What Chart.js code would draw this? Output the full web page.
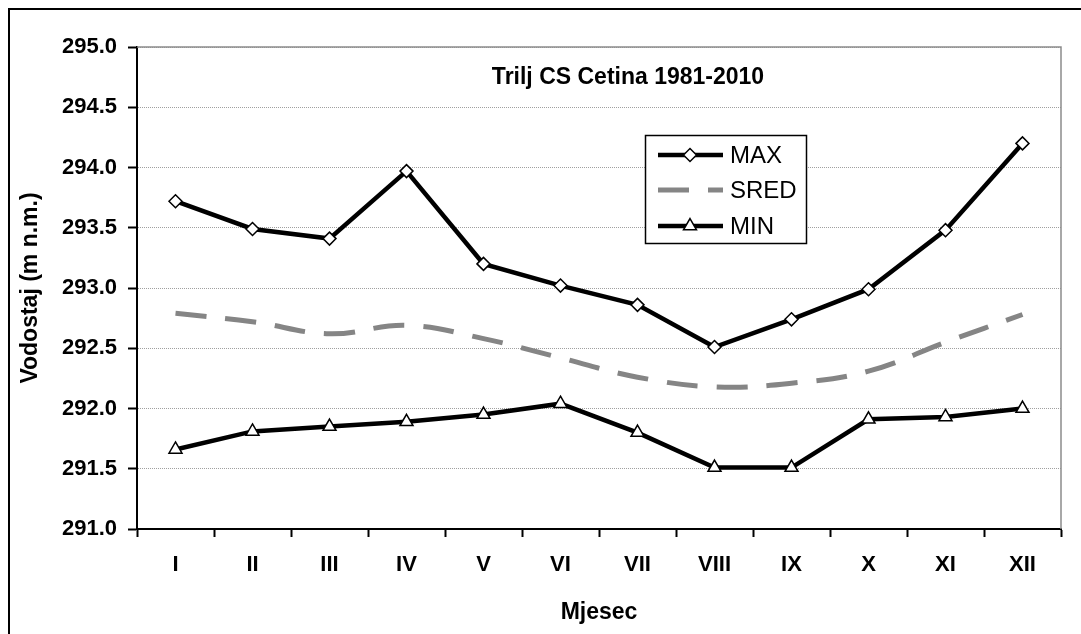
<!DOCTYPE html>
<html>
<head>
<meta charset="utf-8">
<title>Trilj CS Cetina 1981-2010</title>
<script src="https://cdn.jsdelivr.net/npm/chart.js@4/dist/chart.umd.min.js"></script>
<style>
  html, body { margin: 0; padding: 0; background: #fff; }
  #wrap { width: 1081px; height: 634px; position: relative; }
</style>
</head>
<body>
<div id="wrap"><canvas id="c" width="1081" height="634"></canvas></div>
<script>
// Monthly water levels (m a.s.l.), station Trilj CS, river Cetina, 1981-2010
const months = ['I', 'II', 'III', 'IV', 'V', 'VI', 'VII', 'VIII', 'IX', 'X', 'XI', 'XII'];
const maxLevels = [293.72, 293.49, 293.41, 293.97, 293.20, 293.02, 292.86, 292.51, 292.74, 292.99, 293.48, 294.20];
const meanLevels = [292.79, 292.72, 292.62, 292.69, 292.58, 292.42, 292.26, 292.18, 292.21, 292.31, 292.55, 292.78];
const minLevels = [291.66, 291.81, 291.85, 291.89, 291.95, 292.04, 291.80, 291.51, 291.51, 291.91, 291.93, 292.00];
const seriesNames = ['MAX', 'SRED', 'MIN'];
const yMin = 291.0, yMax = 295.0, yStep = 0.5;

const FONT = "'Liberation Sans', Arial, Helvetica, sans-serif";

// White page, outer frame and the grey plot-area outline (top and right)
const framePlugin = {
  id: 'frame',
  beforeDraw(chart) {
    const { ctx } = chart;
    ctx.save();
    ctx.fillStyle = '#fff';
    ctx.fillRect(0, 0, chart.width, chart.height);
    ctx.strokeStyle = '#000';
    ctx.lineWidth = 2;
    ctx.strokeRect(9, 9, chart.width + 40, chart.height + 40);
    ctx.restore();
  },
  beforeDatasetsDraw(chart) {
    const { ctx, chartArea: a } = chart;
    ctx.save();
    ctx.strokeStyle = '#8c8c8c';
    ctx.lineWidth = 1.5;
    ctx.beginPath();
    ctx.moveTo(a.left, a.top);
    ctx.lineTo(a.right, a.top);
    ctx.lineTo(a.right, a.bottom);
    ctx.stroke();
    ctx.restore();
  }
};

// Chart heading drawn inside the plot area
const headingPlugin = {
  id: 'heading',
  afterDraw(chart) {
    const { ctx } = chart;
    ctx.save();
    ctx.font = 'bold 23px ' + FONT;
    ctx.fillStyle = '#000';
    ctx.textAlign = 'center';
    ctx.textBaseline = 'middle';
    ctx.fillText('Trilj CS Cetina 1981-2010', 628, 78);
    ctx.restore();
  }
};

// Boxed legend inside the plot area, using each dataset's own style
const boxLegendPlugin = {
  id: 'boxLegend',
  afterDraw(chart) {
    const { ctx } = chart;
    const box = { x: 645.5, y: 135.5, w: 161, h: 108 };
    const rows = [155, 190, 226];
    ctx.save();
    ctx.fillStyle = '#fff';
    ctx.fillRect(box.x, box.y, box.w, box.h);
    ctx.strokeStyle = '#000';
    ctx.lineWidth = 1.5;
    ctx.strokeRect(box.x, box.y, box.w, box.h);
    chart.data.datasets.forEach((ds, i) => {
      const y = rows[i];
      ctx.save();
      ctx.strokeStyle = ds.borderColor;
      ctx.lineWidth = ds.borderWidth;
      ctx.setLineDash(ds.borderDash || []);
      ctx.lineCap = 'butt';
      ctx.beginPath();
      ctx.moveTo(658, y);
      ctx.lineTo(723, y);
      ctx.stroke();
      ctx.restore();
      if (ds.pointRadius > 0) {
        ctx.save();
        ctx.fillStyle = ds.pointBackgroundColor;
        ctx.strokeStyle = ds.pointBorderColor;
        ctx.lineWidth = ds.pointBorderWidth;
        Chart.helpers.drawPoint(ctx, { pointStyle: ds.pointStyle, radius: ds.pointRadius, rotation: 0, borderWidth: ds.pointBorderWidth }, 690, y);
        ctx.restore();
      }
      ctx.fillStyle = '#000';
      ctx.font = '24px ' + FONT;
      ctx.textAlign = 'left';
      ctx.textBaseline = 'middle';
      ctx.fillText(ds.label, 730, y + 1);
    });
    ctx.restore();
  }
};

const ctx = document.getElementById('c').getContext('2d');
new Chart(ctx, {
  type: 'line',
  data: {
    labels: months,
    datasets: [
      {
        label: seriesNames[0],
        data: maxLevels,
        borderColor: '#000',
        borderWidth: 4.5,
        tension: 0,
        pointStyle: 'rectRot',
        pointRadius: 6.5,
        pointBackgroundColor: '#fff',
        pointBorderColor: '#000',
        pointBorderWidth: 1.5
      },
      {
        label: seriesNames[1],
        data: meanLevels,
        borderColor: '#858585',
        borderWidth: 5,
        borderDash: [31, 19],
        tension: 0.4,
        pointRadius: 0
      },
      {
        label: seriesNames[2],
        data: minLevels,
        borderColor: '#000',
        borderWidth: 4.5,
        tension: 0,
        pointStyle: 'triangle',
        pointRadius: 7.5,
        pointBackgroundColor: '#fff',
        pointBorderColor: '#000',
        pointBorderWidth: 1.5
      }
    ]
  },
  options: {
    responsive: false,
    animation: false,
    devicePixelRatio: 1,
    layout: { padding: { left: 0, top: 47, right: 20, bottom: 0 } },
    plugins: {
      legend: { display: false },
      title: { display: false },
      tooltip: { enabled: false }
    },
    scales: {
      x: {
        type: 'category',
        offset: true,
        afterFit(scale) { scale.height = 105; },
        grid: {
          display: true,
          offset: true,
          drawOnChartArea: false,
          drawTicks: true,
          tickLength: 8,
          tickWidth: 2,
          tickColor: '#000'
        },
        border: { display: true, color: '#000', width: 2 },
        ticks: {
          color: '#000',
          padding: 15,
          maxRotation: 0,
          autoSkip: false,
          font: { family: FONT, size: 22, weight: 'bold' }
        },
        title: {
          display: true,
          text: 'Mjesec',
          color: '#000',
          padding: { top: 0, bottom: 8 },
          font: { family: FONT, size: 23, weight: 'bold' }
        }
      },
      y: {
        min: yMin,
        max: yMax,
        afterFit(scale) { scale.width = 137; },
        grid: {
          color: '#a0a0a0',
          lineWidth: 1,
          borderDash: [1, 1],
          drawTicks: true,
          tickLength: 9,
          tickWidth: 2,
          tickColor: '#000'
        },
        border: { display: true, color: '#000', width: 2, dash: [1, 1] },
        ticks: {
          stepSize: yStep,
          color: '#000',
          padding: 11,
          font: { family: FONT, size: 22, weight: 'bold' },
          callback: (v) => Number(v).toFixed(1)
        },
        title: {
          display: true,
          text: 'Vodostaj (m n.m.)',
          color: '#000',
          padding: { top: 17, bottom: 0 },
          font: { family: FONT, size: 23, weight: 'bold' }
        }
      }
    }
  },
  plugins: [framePlugin, headingPlugin, boxLegendPlugin]
});
</script>
</body>
</html>
